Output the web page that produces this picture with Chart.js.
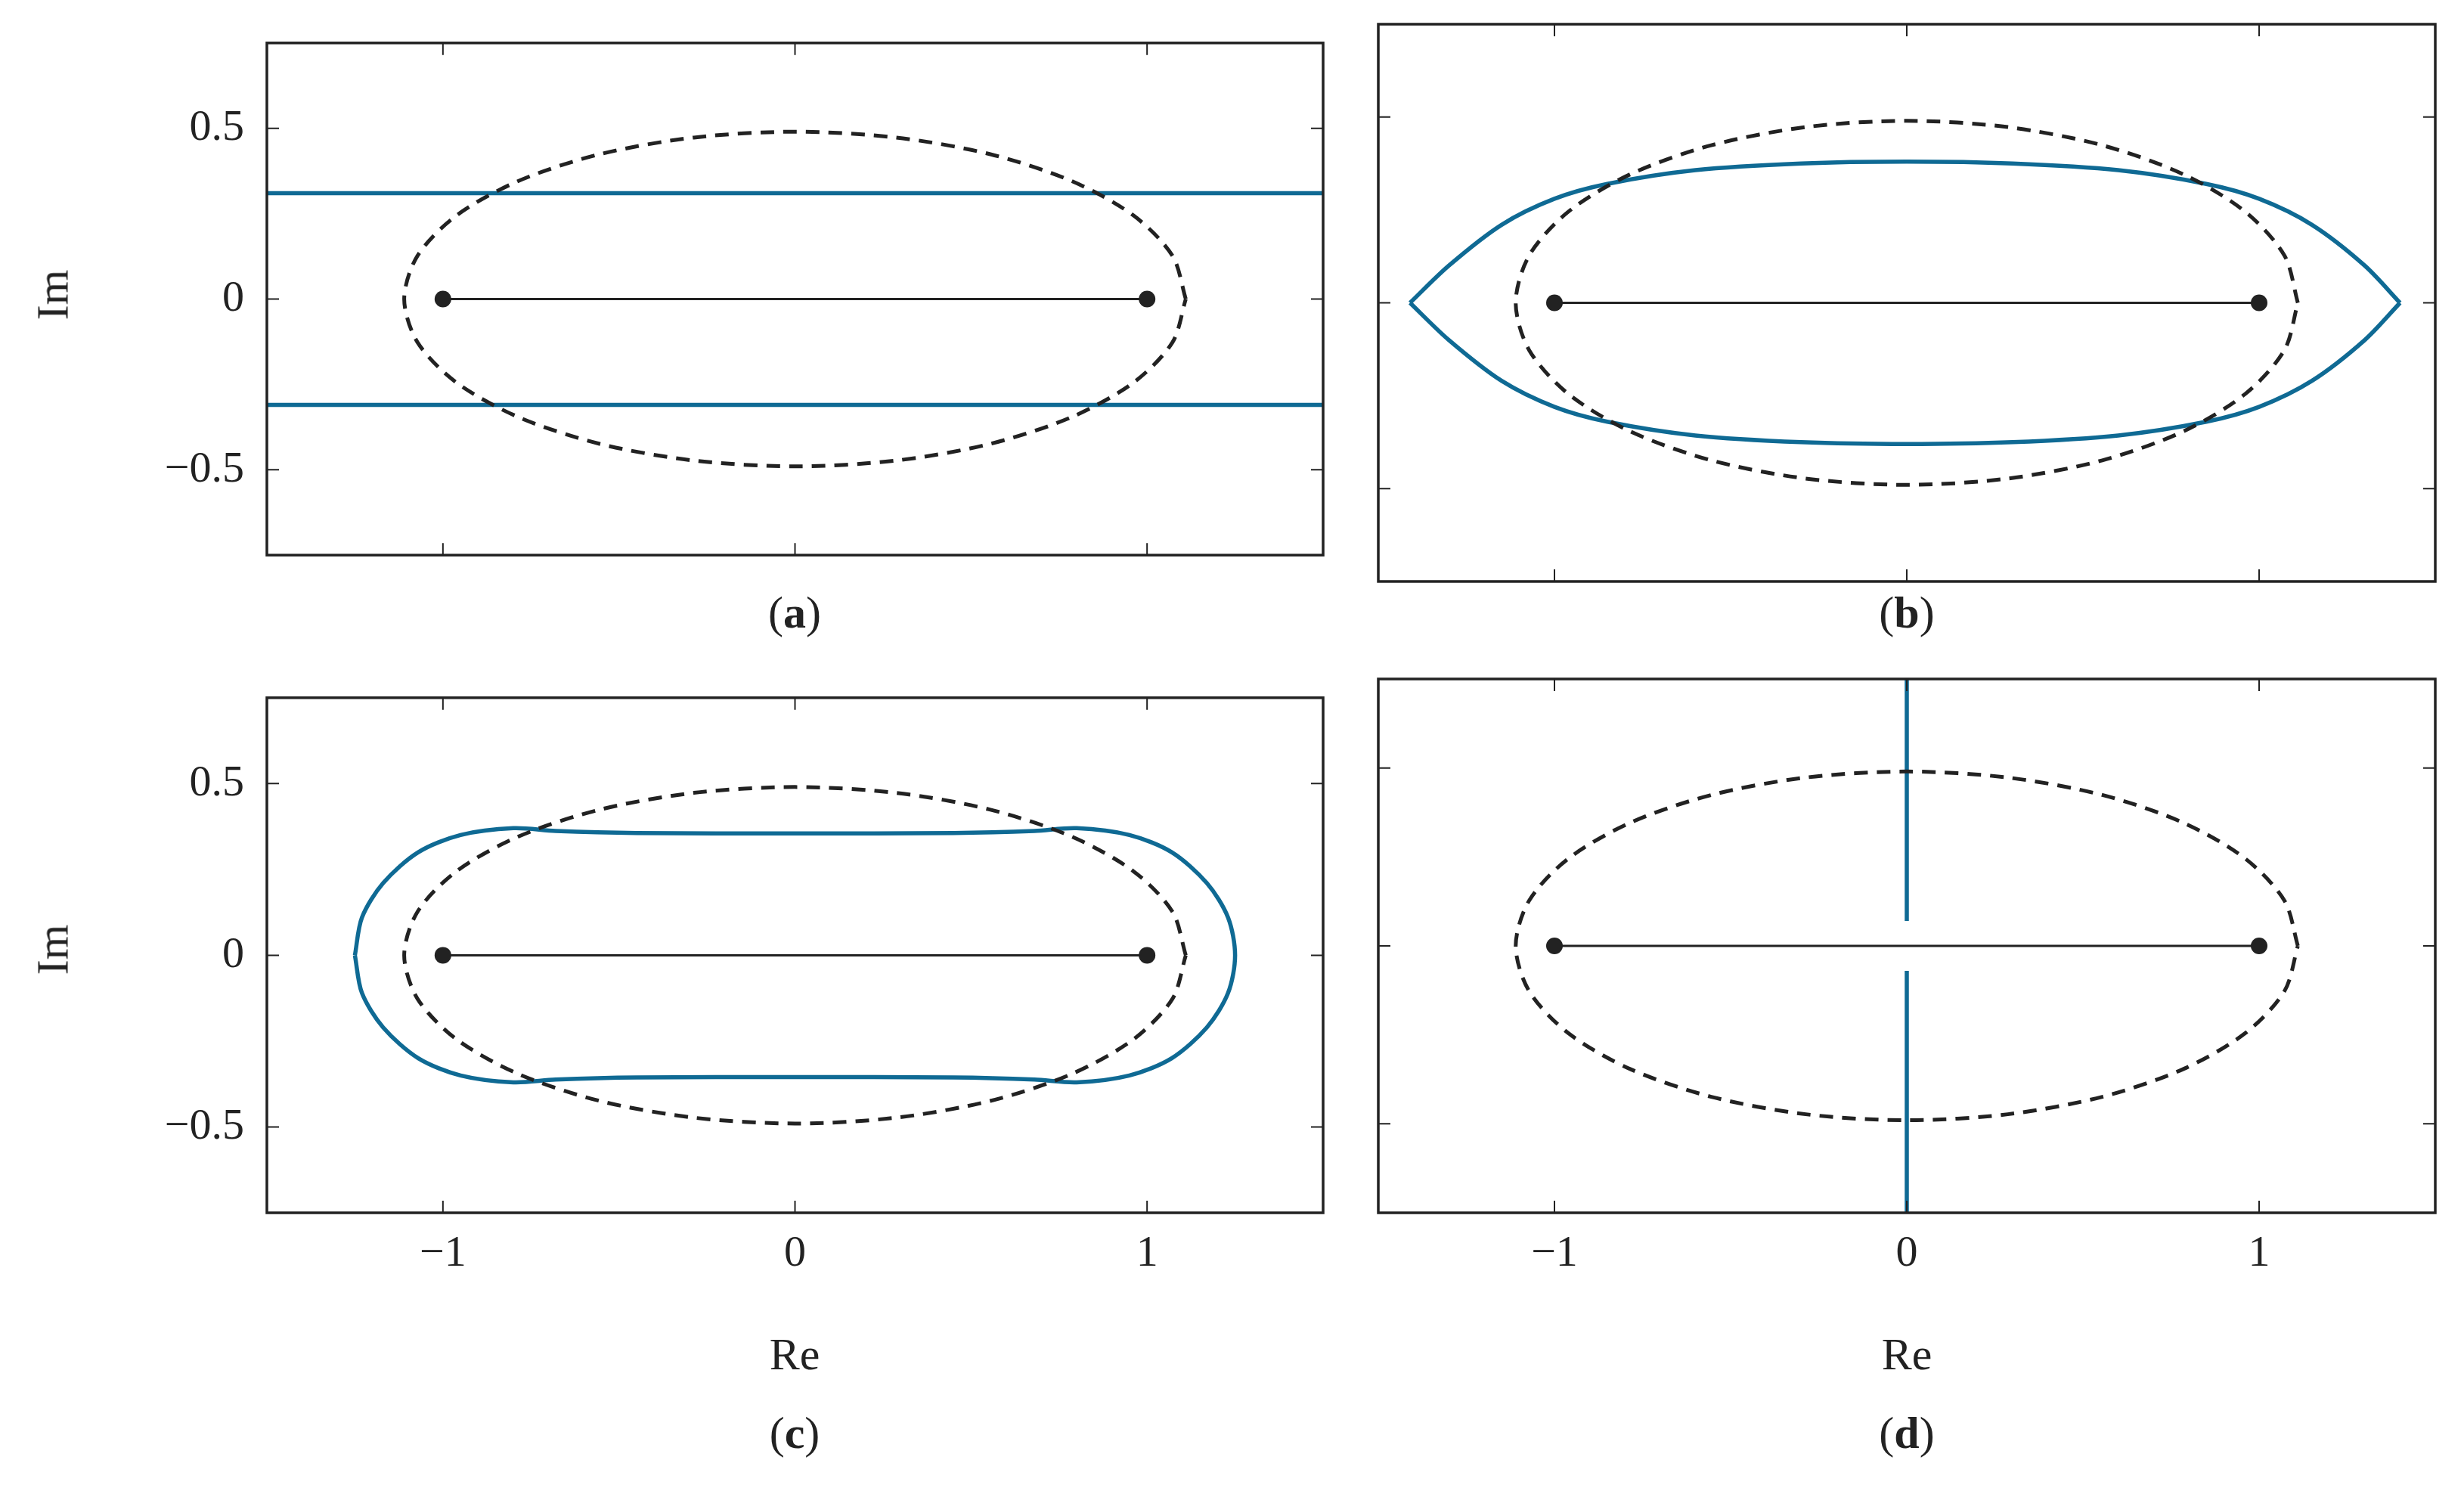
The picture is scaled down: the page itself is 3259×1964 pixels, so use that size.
<!DOCTYPE html>
<html>
<head>
<meta charset="utf-8">
<script src="https://cdn.jsdelivr.net/npm/chart.js@4/dist/chart.umd.min.js"></script>
<style>
  body { margin: 0; width: 3259px; height: 1964px; background: #fff; position: relative; overflow: hidden; font-family: "Liberation Serif", "DejaVu Serif", serif; }
  .box { position: absolute; }
  .txt { position: absolute; font-size: 60px; color: #222; transform: translate(-50%, -50%); white-space: nowrap; }
</style>
</head>
<body>
<div class="box" style="left:0;top:0;width:1770px;height:791px"><canvas id="pa"></canvas></div>
<div class="box" style="left:1803px;top:0;width:1456px;height:791px"><canvas id="pb"></canvas></div>
<div class="box" style="left:0;top:866px;width:1770px;height:860px"><canvas id="pc"></canvas></div>
<div class="box" style="left:1803px;top:866px;width:1456px;height:860px"><canvas id="pd"></canvas></div>

<div class="txt" style="left:1051px;top:810px">(<b>a</b>)</div>
<div class="txt" style="left:2522px;top:810px">(<b>b</b>)</div>
<div class="txt" style="left:1051px;top:1895px">(<b>c</b>)</div>
<div class="txt" style="left:2522px;top:1895px">(<b>d</b>)</div>
<div class="txt" style="left:1051px;top:1791px">Re</div>
<div class="txt" style="left:2522px;top:1791px">Re</div>
<div class="txt" style="left:70px;top:390px;transform:translate(-50%,-50%) rotate(-90deg)">Im</div>
<div class="txt" style="left:70px;top:1256px;transform:translate(-50%,-50%) rotate(-90deg)">Im</div>

<script>
const xTicks = [-1, 0, 1];
const yTicks = [-0.5, 0, 0.5];

const ellipse = [
  [1.11, 0], [1.072, 0.127], [0.961, 0.245], [0.785, 0.346], [0.555, 0.424], [0.287, 0.473],
  [0, 0.49], [-0.287, 0.473], [-0.555, 0.424], [-0.785, 0.346], [-0.961, 0.245], [-1.072, 0.127],
  [-1.11, 0], [-1.072, -0.127], [-0.961, -0.245], [-0.785, -0.346], [-0.555, -0.424], [-0.287, -0.473],
  [0, -0.49], [0.287, -0.473], [0.555, -0.424], [0.785, -0.346], [0.961, -0.245], [1.072, -0.127], [1.11, 0]
];
const segment = [[-1, 0], [1, 0]];

const aUpper = [[-1.5, 0.31], [1.5, 0.31]];
const aLower = [[-1.5, -0.31], [1.5, -0.31]];

const bUpper = [[-1.41, 0], [-1.3, 0.1], [-1.15, 0.21], [-1.0, 0.28], [-0.85, 0.32], [-0.6, 0.357],
  [-0.3, 0.375], [0, 0.38], [0.3, 0.375], [0.6, 0.357], [0.85, 0.32], [1.0, 0.28], [1.15, 0.21], [1.3, 0.1], [1.40, 0]];
const bLower = bUpper.map(p => [p[0], -p[1]]);

const cLoop = [
  [-1.25, 0], [-1.23, 0.11], [-1.17, 0.21], [-1.07, 0.3], [-0.95, 0.35], [-0.8, 0.37], [-0.68, 0.362],
  [-0.45, 0.356], [0, 0.355], [0.45, 0.356], [0.68, 0.362], [0.8, 0.37], [0.95, 0.35], [1.07, 0.3],
  [1.17, 0.21], [1.23, 0.11], [1.25, 0], [1.23, -0.11], [1.17, -0.21], [1.07, -0.3], [0.95, -0.35],
  [0.8, -0.37], [0.68, -0.362], [0.45, -0.356], [0, -0.355], [-0.45, -0.356], [-0.68, -0.362],
  [-0.8, -0.37], [-0.95, -0.35], [-1.07, -0.3], [-1.17, -0.21], [-1.23, -0.11], [-1.25, 0]
];

const dUpper = [[0, 0.75], [0, 0.07]];
const dLower = [[0, -0.07], [0, -0.75]];

const BLUE = '#0f6a94';
const pts = arr => arr.map(p => ({ x: p[0], y: p[1] }));

function blue(data, tension) {
  return { data: pts(data), showLine: true, borderColor: BLUE, borderWidth: 5.5, pointRadius: 0, tension: tension || 0, fill: false };
}
function baseSets() {
  return [
    { data: pts(ellipse), showLine: true, borderColor: '#222', borderWidth: 5, borderDash: [18, 12], pointRadius: 0, tension: 0.3 },
    { data: pts(segment), showLine: true, borderColor: '#222', borderWidth: 3, pointRadius: 11, pointBackgroundColor: '#222', pointBorderWidth: 0 }
  ];
}

const framePlugin = {
  id: 'frame',
  afterDraw(chart) {
    const { ctx, chartArea: a, scales } = chart;
    ctx.save();
    ctx.strokeStyle = '#222';
    ctx.lineWidth = 2;
    const L = 16;
    xTicks.forEach(v => {
      const px = scales.x.getPixelForValue(v);
      ctx.beginPath(); ctx.moveTo(px, a.bottom); ctx.lineTo(px, a.bottom - L);
      ctx.moveTo(px, a.top); ctx.lineTo(px, a.top + L); ctx.stroke();
    });
    yTicks.forEach(v => {
      const py = scales.y.getPixelForValue(v);
      ctx.beginPath(); ctx.moveTo(a.left, py); ctx.lineTo(a.left + L, py);
      ctx.moveTo(a.right, py); ctx.lineTo(a.right - L, py); ctx.stroke();
    });
    ctx.lineWidth = 3.5;
    ctx.strokeRect(a.left, a.top, a.right - a.left, a.bottom - a.top);
    ctx.restore();
  }
};

function makeChart(id, extra, left, bottom) {
  const font = { family: '"Liberation Serif", "DejaVu Serif", serif', size: 58 };
  new Chart(document.getElementById(id), {
    type: 'scatter',
    data: { datasets: baseSets().concat(extra) },
    options: {
      responsive: true, maintainAspectRatio: false, animation: false,
      layout: { padding: { top: 32, left: 0, right: left ? 20 : 38 } },
      plugins: { legend: { display: false }, tooltip: { enabled: false } },
      scales: {
        x: {
          type: 'linear', min: -1.5, max: 1.5,
          afterBuildTicks: s => { s.ticks = xTicks.map(v => ({ value: v })); },
          afterFit: s => { s.height = bottom ? 860 - 42 - 696 : 22; },
          grid: { display: false }, border: { display: false },
          ticks: { display: bottom, color: '#222', font, padding: 12,
            callback: v => v < 0 ? '\u2212' + Math.abs(v) : String(v) }
        },
        y: {
          type: 'linear', min: -0.75, max: 0.75,
          afterBuildTicks: s => { s.ticks = yTicks.map(v => ({ value: v })); },
          afterFit: s => { s.width = left ? 353 : 20; },
          grid: { display: false }, border: { display: false },
          ticks: { display: left, color: '#222', font, padding: 22,
            callback: v => v < 0 ? '\u2212' + Math.abs(v) : String(v) }
        }
      }
    },
    plugins: [framePlugin]
  });
}

makeChart('pa', [blue(aUpper), blue(aLower)], true, false);
makeChart('pb', [blue(bUpper, 0.3), blue(bLower, 0.3)], false, false);
makeChart('pc', [blue(cLoop, 0.3)], true, true);
makeChart('pd', [blue(dUpper), blue(dLower)], false, true);
</script>
</body>
</html>
